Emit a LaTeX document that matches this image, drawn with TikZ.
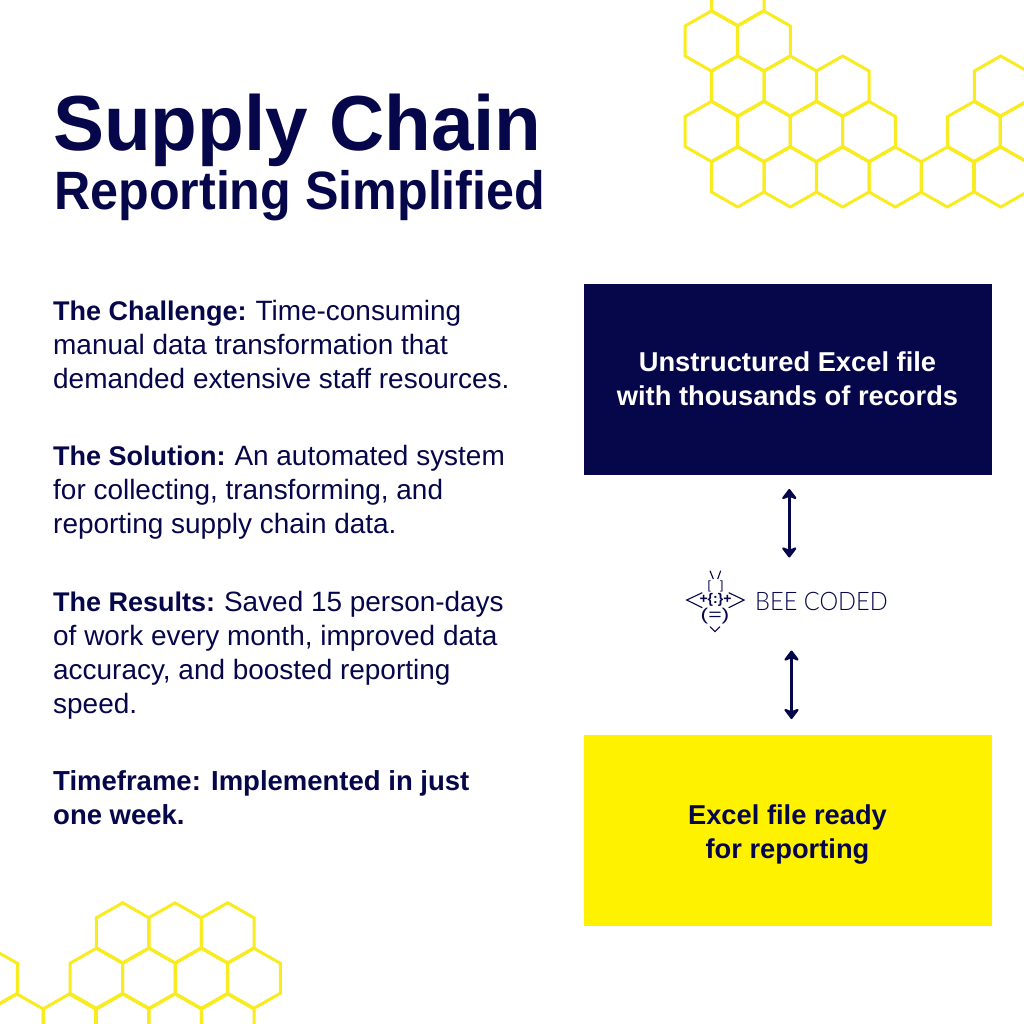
\documentclass[tikz,border=0pt]{standalone}
\usepackage{graphicx}
\usepackage{fontspec}
\usetikzlibrary{arrows.meta}
\setmainfont{Liberation Sans}
\newfontfamily\titlefont[FakeStretch=0.98]{Liberation Sans}
\newfontfamily\subfont[FakeStretch=0.93]{Liberation Sans}
\newfontfamily\brandfont[FakeStretch=0.925]{Lato Light}
\definecolor{navy}{HTML}{06064A}
\definecolor{bee}{HTML}{FFF200}
\definecolor{combtint}{HTML}{F8EC20}
\newcommand{\hexcell}[2]{\draw[comb] (#1,#2-30) -- (#1+26.3,#2-15) -- (#1+26.3,#2+15) -- (#1,#2+30) -- (#1-26.3,#2+15) -- (#1-26.3,#2-15) -- cycle;}
\newcommand{\fs}[2]{\fontsize{#1}{#2}\selectfont}
\newcommand{\lab}[1]{{\bfseries\fontsize{27}{34}\selectfont #1}\hspace{-1.5pt}}
\tikzset{
  comb/.style={draw=combtint,line width=3pt,line join=miter},
  para/.style={anchor=north west,align=left,inner sep=0pt,text=navy,font=\fs{27.95}{34}},
  plainbox/.style={minimum width=408pt,minimum height=191pt,inner sep=0pt},
  boxtext/.style={inner sep=0pt,align=center,font=\bfseries\fs{27.3}{34}},
  link/.style={draw=navy,line width=3.4pt,{Stealth[length=12pt,width=18pt,inset=3.5pt,round]}-{Stealth[length=12pt,width=18pt,inset=3.5pt,round]}},
  logoglyph/.style={inner sep=0pt,text=navy,font=\fs{14.5}{15}},
  logoline/.style={draw=navy,line width=1.1pt}
}
\begin{document}
\begin{tikzpicture}[x=1pt,y=-1pt]
\useasboundingbox (0,0) rectangle (1024,1024);
\fill[white] (0,0) rectangle (1024,1024);
% honeycomb top right
\foreach \c/\r in {737.7/-4.5,711.3/41,764/41,737.7/86,790.3/86,842.7/86,1000.7/86,711.3/131.5,764/131.5,816.3/131.5,869/131.5,974/131.5,1026.5/131.5,737.7/177,790.3/177,842.7/177,895.3/177,947.3/177,1000.7/177}{\hexcell{\c}{\r}}
% honeycomb bottom left
\foreach \c/\r in {122.7/932.8,175/932.8,227.7/932.8,-9/978.3,96.3/978.3,149/978.3,201.3/978.3,254/978.3,17/1024,69.3/1024,122.7/1024,175/1024,227.7/1024}{\hexcell{\c}{\r}}
% titles
\node[anchor=base west,inner sep=0pt,text=navy,font=\titlefont\bfseries\fs{78}{80}] (title) at (53,150.5) {Supply Chain};
\node[anchor=base west,inner sep=0pt,text=navy,font=\subfont\bfseries\fs{54}{56}] (subtitle) at (54,210) {Reporting Simplified};
% paragraphs
\node[para] (challenge) at (53,300.5) {\lab{The Challenge:} Time-consuming\\manual data transformation that\\demanded extensive staff resources.};
\node[para] (solution) at (53,445.5) {\lab{The Solution:} An automated system\\for collecting, transforming, and\\reporting supply chain data.};
\node[para] (results) at (53,591.5) {\lab{The Results:} Saved 15 person-days\\of work every month, improved data\\accuracy, and boosted reporting\\speed.};
\node[para,font=\bfseries\fs{27.5}{34}] (time) at (53,770.5) {Timeframe: Implemented in just\\one week.};
% boxes
\node[plainbox,fill=navy] (raw) at (788,379.5) {};
\node[boxtext,text=white] (rawtext) at (787.5,378.5) {Unstructured Excel file\\with thousands of records};
\node[plainbox,fill=bee] (ready) at (788,830.5) {};
\node[boxtext,text=navy] (readytext) at (787.5,834) {Excel file ready\\for reporting};
% logo
\node[anchor=base west,inner sep=0pt,text=navy,font=\brandfont\fs{25.5}{26}] (brand) at (755,610.7) {BEE CODED};
\node[logoglyph,font=\fs{12}{12}] (head) at (715.5,586) {[\hspace{9pt}]};
\node[logoglyph,font=\bfseries\fs{14}{15}] (thorax) at (715.5,600) {+\{:\}+};
\node[logoglyph] (abdomen) at (715,616.5) {\scalebox{1.35}[1]{\fs{17}{17}(=)}};
\draw[logoline] (710,570.7) -- (713.3,579);
\draw[logoline] (720.7,570.7) -- (717.7,579);
\draw[logoline] (702.3,592.7) -- (686.7,600) -- (702.3,607.7);
\draw[logoline] (728.7,592.7) -- (744,600) -- (728.7,607.7);
\draw[logoline] (710,626.7) -- (715,631.7) -- (720,626.7);
% links
\coordinate (a1) at (789.3,489);
\coordinate (a2) at (789.3,557.5);
\coordinate (b1) at (791.5,650.5);
\coordinate (b2) at (791.5,719);
\draw[link] (a1) -- (a2);
\draw[link] (b1) -- (b2);
\end{tikzpicture}
\end{document}
